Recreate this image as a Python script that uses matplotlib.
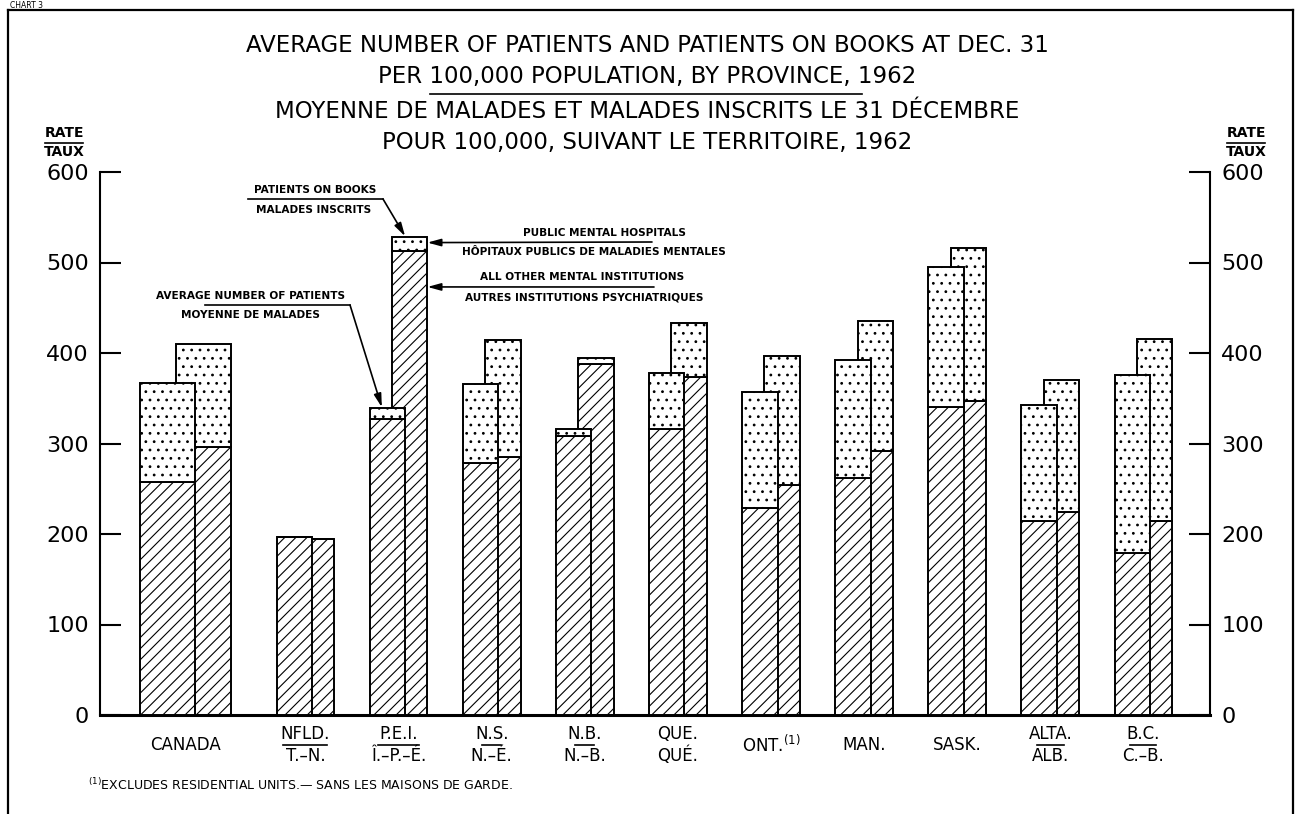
import numpy as np
import matplotlib.pyplot as plt
import matplotlib.transforms as mtransforms
from matplotlib.lines import Line2D

plt.rcParams['font.family'] = ['DejaVu Sans']
plt.rcParams['hatch.linewidth'] = 0.8
plt.rcParams['hatch.color'] = 'black'

# provinces (upper line / lower line of each label)
labels_top = ['CANADA', 'NFLD.', 'P.E.I.', 'N.S.', 'N.B.', 'QUE.',
              r'ONT.$^{\mathregular{(1)}}$', 'MAN.', 'SASK.', 'ALTA.', 'B.C.']
labels_bottom = ['', 'T.–N.', 'Î.–P.–É.', 'N.–É.', 'N.–B.', 'QUÉ.',
                 '', '', '', 'ALB.', 'C.–B.']

# rate per 100,000 population
# average number of patients: total and the hatched (lower) part
avg_total = np.array([367, 197, 339, 366, 316, 378, 357, 392, 495, 343, 376])
avg_hatched = np.array([258, 197, 327, 279, 308, 316, 229, 262, 340, 214, 179])
# patients on books at Dec. 31: total and the hatched (lower) part
books_total = np.array([410, 194, 528, 414, 395, 433, 397, 435, 516, 370, 416])
books_hatched = np.array([296, 194, 513, 285, 388, 373, 254, 292, 347, 224, 214])

W, H = 1296, 814


def fx(x):
    return x / W


def fy(y):
    return 1 - y / H


fig = plt.figure(figsize=(12.96, 8.14), dpi=100)
ax = fig.add_axes([fx(100), fy(715), fx(1210) - fx(100), fy(172) - fy(715)])

n = len(labels_top)
centers = np.arange(n, dtype=float)
centers[0] = -0.29
width = np.full(n, 0.38)
width[0] = 0.59
offset = np.full(n, 0.24)
offset[0] = 0.39
x1 = centers - (width + offset) / 2 + width / 2
x2 = x1 + offset

kw = dict(color='white', edgecolor='black', linewidth=1.4)
# patients on books (drawn behind)
ax.bar(x2, books_hatched, width, hatch='///', zorder=2, **kw)
ax.bar(x2, books_total - books_hatched, width, bottom=books_hatched, hatch='..', zorder=2, **kw)
# average number of patients (in front)
ax.bar(x1, avg_hatched, width, hatch='///', zorder=3, **kw)
ax.bar(x1, avg_total - avg_hatched, width, bottom=avg_hatched, hatch='..', zorder=3, **kw)

ax.set_xlim(-1.207, 10.715)
ax.set_ylim(0, 600)
ax.set_xticks([])
ax.set_yticks(range(0, 601, 100))
ax.tick_params(axis='y', direction='in', length=15, width=1.5, left=True, right=True,
               labelleft=True, labelright=True, labelsize=16, pad=8)
ax.spines['top'].set_visible(False)
ax.spines['left'].set_linewidth(1.5)
ax.spines['right'].set_linewidth(1.5)
ax.spines['bottom'].set_linewidth(2.2)
ax.patch.set_alpha(0)

# category labels under the axis
tr = mtransforms.blended_transform_factory(ax.transData, fig.transFigure)
div_px = [0, 44, 41, 19, 19, 0, 0, 0, 0, 27, 26]
for i in range(n):
    if labels_bottom[i]:
        ax.text(centers[i], fy(734), labels_top[i], transform=tr, ha='center', va='center', fontsize=12)
        ax.text(centers[i], fy(756), labels_bottom[i], transform=tr, ha='center', va='center', fontsize=12)
        if div_px[i]:
            hw = div_px[i] / 93.1 / 2
            ax.add_line(Line2D([centers[i] - hw, centers[i] + hw], [fy(745), fy(745)],
                               transform=tr, color='black', lw=1.2, clip_on=False))
    else:
        ax.text(centers[i], fy(745), labels_top[i], transform=tr, ha='center', va='center', fontsize=12)

# titles
title_lines = ['AVERAGE NUMBER OF PATIENTS AND PATIENTS ON BOOKS AT DEC. 31',
               'PER 100,000 POPULATION, BY PROVINCE, 1962',
               'MOYENNE DE MALADES ET MALADES INSCRITS LE 31 DÉCEMBRE',
               'POUR 100,000, SUIVANT LE TERRITOIRE, 1962']
for txt, y in zip(title_lines, [45, 77, 112, 143]):
    fig.text(fx(647), fy(y), txt, ha='center', va='center', fontsize=16.5)
fig.add_artist(Line2D([fx(430), fx(862)], [fy(94), fy(94)], color='black', lw=1.2))

# RATE / TAUX on both sides
for cx in [64, 1246]:
    fig.text(fx(cx), fy(133), 'RATE', ha='center', va='center', fontsize=10, fontweight='bold')
    fig.text(fx(cx), fy(152), 'TAUX', ha='center', va='center', fontsize=10, fontweight='bold')
    fig.add_artist(Line2D([fx(cx - 19), fx(cx + 19)], [fy(143), fy(143)], color='black', lw=1.2))

# callouts
small = dict(ha='center', va='center', fontsize=7.6, fontweight='bold')
arrow = dict(arrowstyle='-|>,head_length=0.8,head_width=0.22', color='black', lw=1.2,
             shrinkA=0, shrinkB=0)

fig.text(fx(315), fy(190), 'PATIENTS ON BOOKS', **small)
fig.text(fx(314), fy(210), 'MALADES INSCRITS', **small)
fig.add_artist(Line2D([fx(248), fx(383)], [fy(199), fy(199)], color='black', lw=1.2))
ax.annotate('', xy=(x2[2] - 0.05, books_total[2] + 1), xytext=(fx(383), fy(199)),
            textcoords='figure fraction', arrowprops=arrow)

fig.text(fx(251), fy(296), 'AVERAGE NUMBER OF PATIENTS', **small)
fig.text(fx(250), fy(315), 'MOYENNE DE MALADES', **small)
fig.add_artist(Line2D([fx(205), fx(350)], [fy(305), fy(305)], color='black', lw=1.2))
ax.annotate('', xy=(x1[2] - 0.06, avg_total[2] + 1), xytext=(fx(350), fy(305)),
            textcoords='figure fraction', arrowprops=arrow)

fig.text(fx(604), fy(233), 'PUBLIC MENTAL HOSPITALS', **small)
fig.text(fx(594), fy(252), 'HÔPITAUX PUBLICS DE MALADIES MENTALES', **small)
ax.annotate('', xy=(x2[2] + width[2] / 2, 522), xytext=(fx(652), fy(242)),
            textcoords='figure fraction', arrowprops=arrow)

fig.text(fx(582), fy(277), 'ALL OTHER MENTAL INSTITUTIONS', **small)
fig.text(fx(584), fy(298), 'AUTRES INSTITUTIONS PSYCHIATRIQUES', **small)
ax.annotate('', xy=(x2[2] + width[2] / 2, 473), xytext=(fx(654), fy(287)),
            textcoords='figure fraction', arrowprops=arrow)

# footnote
fig.text(fx(88), fy(785), r'$^{\mathregular{(1)}}$EXCLUDES RESIDENTIAL UNITS.— SANS LES MAISONS DE GARDE.',
         ha='left', va='center', fontsize=9)

# frame and chart number
fig.add_artist(Line2D([fx(8), fx(8)], [0, fy(10)], color='black', lw=1.6))
fig.add_artist(Line2D([fx(8), fx(1293)], [fy(10), fy(10)], color='black', lw=1.6))
fig.add_artist(Line2D([fx(1293), fx(1293)], [0, fy(10)], color='black', lw=1.6))
fig.text(fx(10), fy(1), 'CHART 3', ha='left', va='top', fontsize=5.5)

fig.savefig('out.png', dpi=100)
